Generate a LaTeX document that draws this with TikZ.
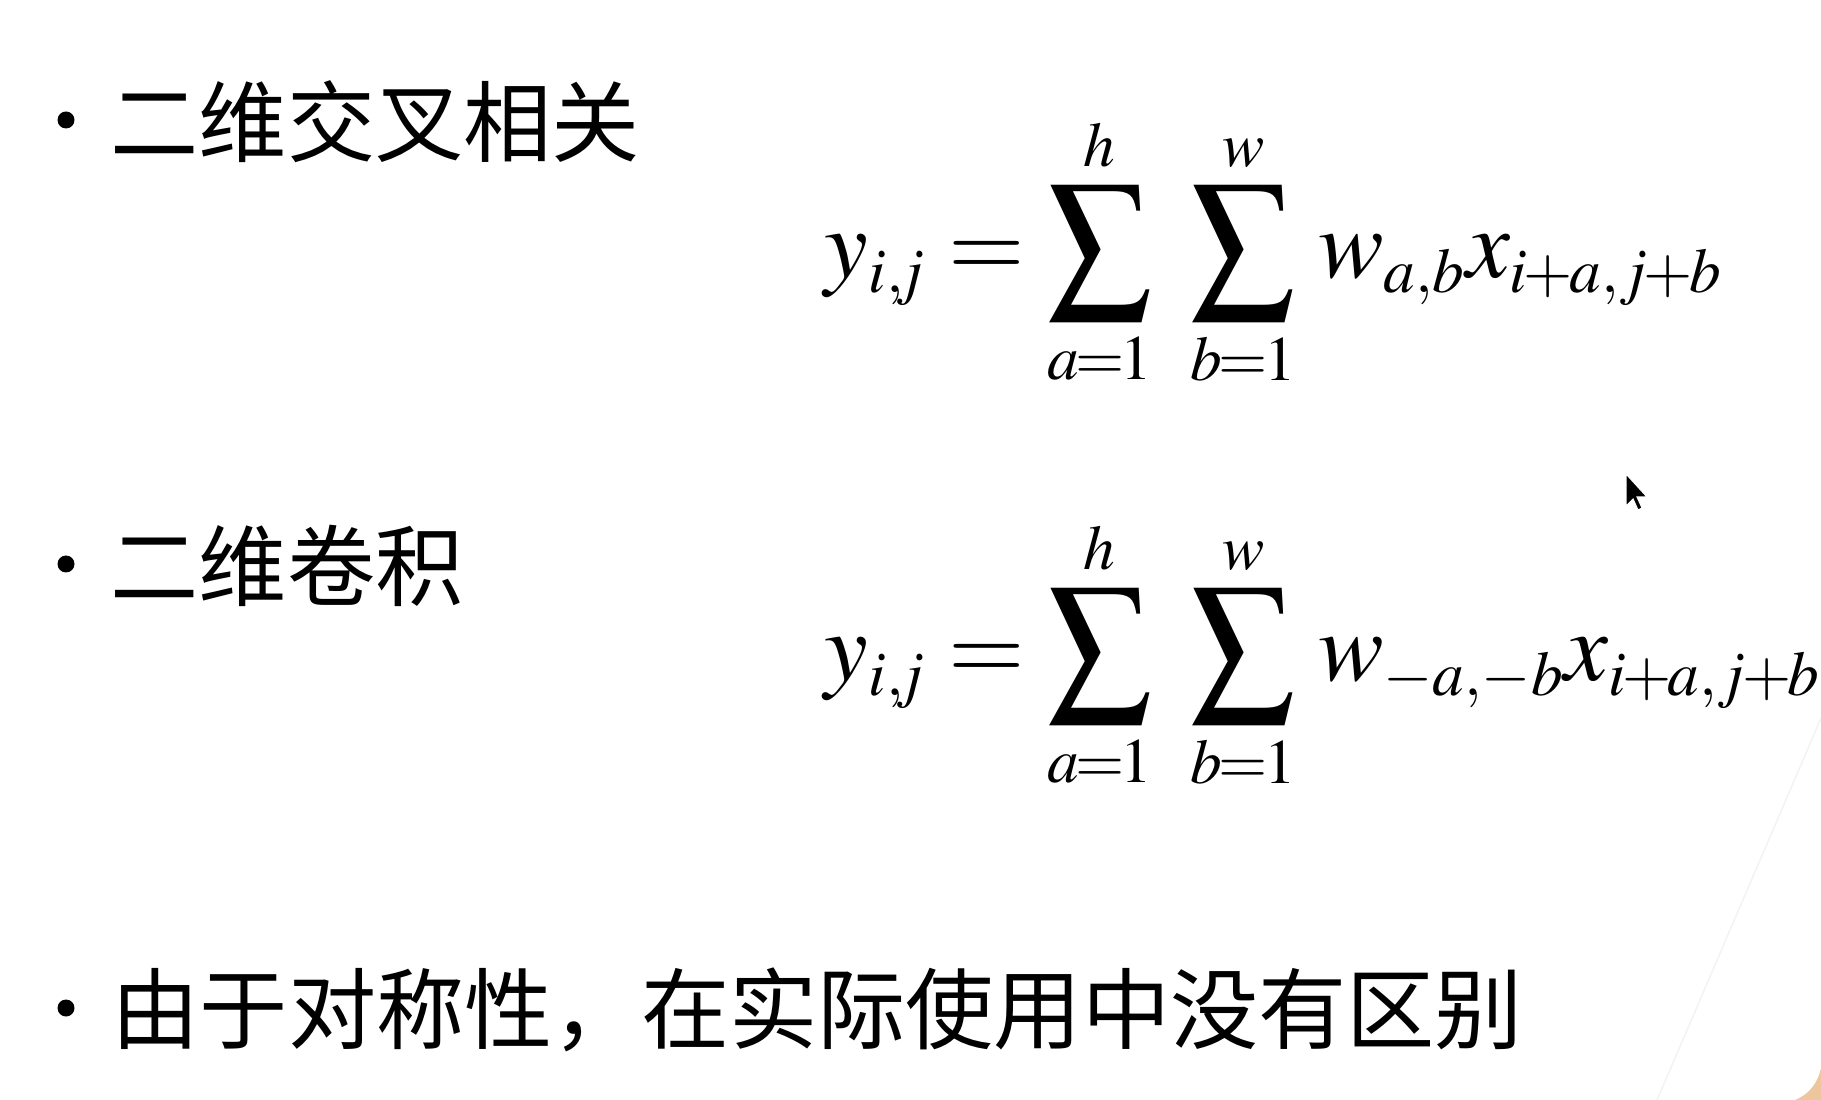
\documentclass[tikz,border=0pt]{standalone}
\usepackage[no-math]{fontspec}
\usepackage{mathptmx}
\usepackage{graphicx}
\setmainfont{Liberation Serif}
\newfontfamily\cjk{Noto Sans CJK SC}
\usetikzlibrary{positioning}
\DeclareMathSizes{28}{28}{18}{13}
\newcommand{\bsum}{\mathop{\vcenter{\hbox{\scalebox{1.04}[1.11]{$\displaystyle\sum$}}}}\limits}
\newcommand{\pl}{\mkern-1mu+\mkern-1mu}
\tikzset{
  bul/.style={circle, fill=black, inner sep=0pt, minimum size=1.7mm},
  item/.style={anchor=west, inner sep=0pt, font=\cjk\fontsize{25.1}{30}\selectfont},
  eq/.style={anchor=west, inner sep=0pt, font=\fontsize{28}{32}\selectfont}
}
\begin{document}
\begin{tikzpicture}[x=0.1mm, y=-0.1mm]
\useasboundingbox (0,0) rectangle (1821,1100);
% Bullet items
\node[bul] (bulA) at (66,120) {};
\node[item] (txtA) at (110,122) {二维交叉相关};
\node[bul] (bulB) at (66,564) {};
\node[item] (txtB) at (110,566) {二维卷积};
\node[bul] (bulC) at (66,1008) {};
\node[item] (txtC) at (111,1010) {由于对称性，在实际使用中没有区别};

% Formulas
\node[eq] (eqA) at (824,252) {$\displaystyle y_{i,\mkern-2mu j}=\bsum_{a\mkern-1mu=\mkern-1mu1}^{h}\mkern5mu\bsum_{b\mkern-1mu=\mkern-1mu1}^{w}\mkern2mu w_{a,b}x_{i\pl a,j\pl b}$};
\node[eq] (eqB) at (824,655) {$\displaystyle y_{i,\mkern-2mu j}=\bsum_{a\mkern-1mu=\mkern-1mu1}^{h}\mkern5mu\bsum_{b\mkern-1mu=\mkern-1mu1}^{w}\mkern2mu w_{-a,-b}x_{i\pl a,j\pl b}$};

% Mouse pointer
\draw[white, fill=black, line width=0.3pt] (1626,474) -- (1626,506) -- (1633,499) -- (1638,510) -- (1642,508) -- (1637,497) -- (1647,497) -- cycle;

% Slide edge
\draw[gray!10, line width=0.4pt] (1821,718) -- (1657,1100);
\fill[brown!60!orange!45] (1821,1068) -- (1821,1100) -- (1795,1100) .. controls (1810,1094) and (1818,1082) .. (1821,1068);
\end{tikzpicture}
\end{document}
